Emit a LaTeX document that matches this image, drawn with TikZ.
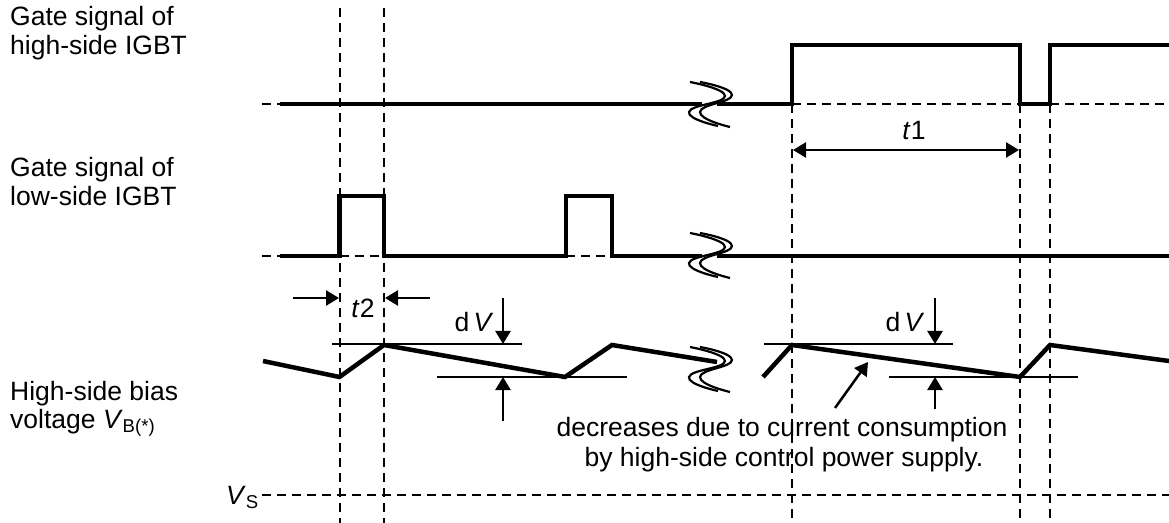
\documentclass[tikz,border=0pt]{standalone}
\usepackage{fontspec}
\setmainfont{Liberation Sans}
\usetikzlibrary{arrows.meta}
\begin{document}
\begin{tikzpicture}[x=1bp,y=-1bp,
  sig/.style={line width=4.5bp, line join=miter},
  dsh/.style={line width=2bp, dash pattern=on 9bp off 6bp},
  refl/.style={line width=2bp},
  arr/.style={line width=2.5bp, -{Triangle[length=13bp,width=15bp]}},
  darr/.style={line width=2.5bp, {Triangle[length=13bp,width=15bp]}-{Triangle[length=13bp,width=15bp]}},
  brk/.style={line width=2.2bp},
  lbl/.style={inner sep=0pt, font=\fontsize{26.5bp}{29bp}\selectfont}]
\useasboundingbox (0,0) rectangle (1169,523);

% vertical dashed lines
\draw[dsh] (339.5,8) -- (339.5,523);
\draw[dsh] (384,8) -- (384,523);
\draw[dsh] (792,104) -- (792,523);
\draw[dsh] (1020,104) -- (1020,523);
\draw[dsh] (1050,104) -- (1050,523);

% horizontal dashed references
\draw[dsh] (262,104) -- (280,104);
\draw[dsh] (792,104) -- (1020,104);
\draw[dsh] (1050,104) -- (1169,104);
\draw[dsh] (262,256) -- (280,256);
\draw[dsh] (339.5,256) -- (384,256);
\draw[dsh] (566,256) -- (612,256);
\draw[dsh] (262,495) -- (1169,495);

% high-side gate
\draw[sig] (280,104) -- (702,104);
\draw[sig] (717,104) -- (792,104) -- (792,45) -- (1020,45) -- (1020,104) -- (1050,104) -- (1050,45) -- (1169,45);

% low-side gate
\draw[sig] (280,256) -- (339.5,256) -- (339.5,196) -- (384,196) -- (384,256) -- (566,256) -- (566,196) -- (612,196) -- (612,256) -- (702,256);
\draw[sig] (717,256) -- (1169,256);

% bias voltage
\draw[sig] (263,361) -- (339.5,377) -- (384,345) -- (565,377) -- (612,345) -- (717,362);
\draw[sig] (763,377) -- (792,345) -- (1020,377) -- (1050,345) -- (1169,361);

% break marks
\foreach \yy in {82,233,347}{
  \draw[brk] plot[smooth, tension=0.9] coordinates {(690,\yy) (725,\yy+14) (689,\yy+30) (718,\yy+44)};
  \draw[brk] plot[smooth, tension=0.9] coordinates {(700,\yy) (732,\yy+13) (700,\yy+30) (730,\yy+45)};
}

% dV reference lines
\draw[refl] (332,344) -- (522,344);
\draw[refl] (437,377) -- (627,377);
\draw[refl] (764,344) -- (953,344);
\draw[refl] (889,377) -- (1078,377);

% coordinates for arrows
\coordinate (a1s) at (503,298); \coordinate (a1e) at (503,344);
\coordinate (a2s) at (503,421); \coordinate (a2e) at (503,377);
\coordinate (a3s) at (935,298); \coordinate (a3e) at (935,344);
\coordinate (a4s) at (935,409); \coordinate (a4e) at (935,377);
\coordinate (t2ls) at (293,298); \coordinate (t2le) at (339,298);
\coordinate (t2rs) at (430,298); \coordinate (t2re) at (385,298);
\coordinate (t1s) at (793,150); \coordinate (t1e) at (1019,150);
\coordinate (ps) at (835,408); \coordinate (pe) at (868,362);

\draw[arr] (a1s) -- (a1e);
\draw[arr] (a2s) -- (a2e);
\draw[arr] (a3s) -- (a3e);
\draw[arr] (a4s) -- (a4e);
\draw[arr] (t2ls) -- (t2le);
\draw[arr] (t2rs) -- (t2re);
\draw[darr] (t1s) -- (t1e);
\draw[arr] (ps) -- (pe);

% labels
\node[lbl, anchor=base west] (h1) at (10,26) {Gate signal of};
\node[lbl, anchor=base west] (h2) at (10,55) {high-side IGBT};
\node[lbl, anchor=base west] (g1) at (10,177) {Gate signal of};
\node[lbl, anchor=base west] (g2) at (10,206) {low-side IGBT};
\node[lbl, anchor=base west] (b1) at (10,400) {High-side bias};
\node[lbl, anchor=base west] (b2) at (10,428) {voltage \textit{V}\textsubscript{B(*)}};
\node[lbl, anchor=base east] (vs) at (259,504) {\textit{V}\textsubscript{S}};
\node[lbl, anchor=base] (t2) at (363,318) {\textit{t}2};
\node[lbl, anchor=base] (t1) at (914,140) {\textit{t}1};
\node[lbl, anchor=base] (dv1) at (474,332) {d\,\textit{V}};
\node[lbl, anchor=base] (dv2) at (905,332) {d\,\textit{V}};
\node[lbl, anchor=base] (n1) at (782,436) {decreases due to current consumption};
\node[lbl, anchor=base] (n2) at (784,466) {by high-side control power supply.};
\end{tikzpicture}
\end{document}
